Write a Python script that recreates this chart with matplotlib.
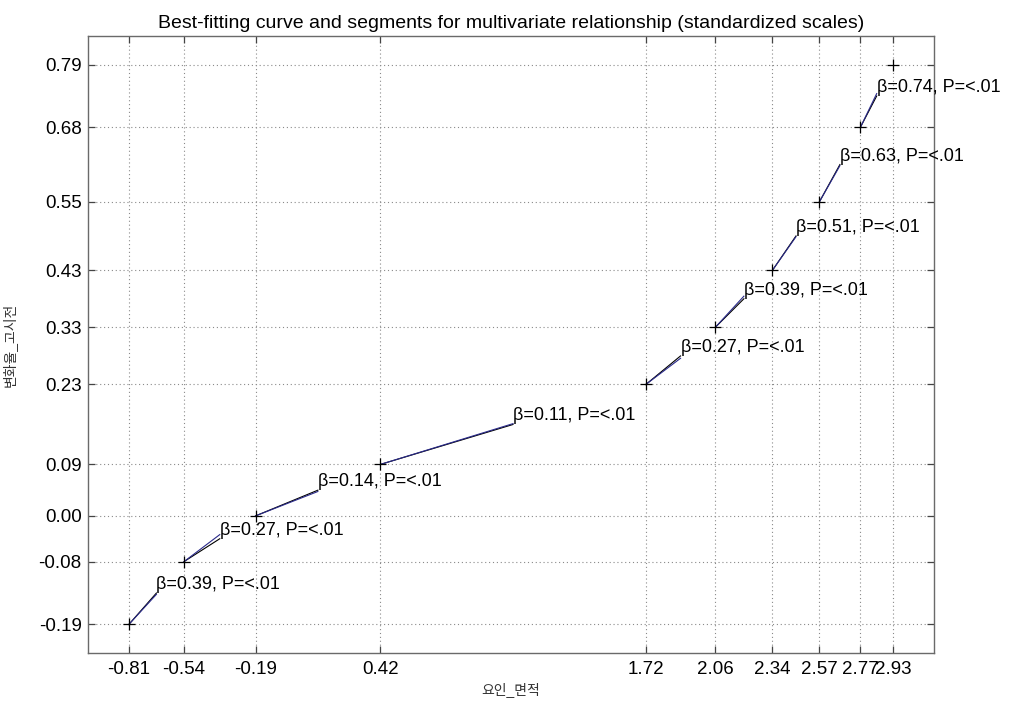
import matplotlib
matplotlib.use("Agg")
import matplotlib.pyplot as plt
import numpy as np

# knots of the piecewise fit (standardized scales)
knot_x = [-0.81, -0.54, -0.19, 0.42, 1.72, 2.06, 2.34, 2.57, 2.77, 2.93]
knot_y = [-0.19, -0.08, 0.00, 0.09, 0.23, 0.33, 0.43, 0.55, 0.68, 0.79]
betas = [0.39, 0.27, 0.14, 0.11, 0.27, 0.39, 0.51, 0.63, 0.74]
p_text = ["<.01"] * 9

title = "Best-fitting curve and segments for multivariate relationship (standardized scales)"
x_label = "요인_면적"
y_label = "변화율_고시전"

plt.rcParams["font.family"] = ["Liberation Sans", "Noto Sans CJK KR", "DejaVu Sans"]

fig = plt.figure(figsize=(10.17, 7.03), dpi=100)
ax = fig.add_axes([0.0865, 0.0711, 0.8318, 0.8777])

kx = np.array(knot_x)
ky = np.array(knot_y)

for i, b in enumerate(betas):
    x0, y0 = kx[i], ky[i]
    xm = (kx[i] + kx[i + 1]) / 2
    ym = (ky[i] + ky[i + 1]) / 2
    # chord from knot to segment midpoint
    ax.plot([x0, xm], [y0, ym], color="black", lw=0.8, zorder=3)
    # regression slope from the same knot
    ax.plot([x0, xm], [y0, y0 + b * (xm - x0)], color="#2a2a8a", lw=0.8, zorder=3)
    ax.text(xm, ym, f"β={b:.2f}, P={p_text[i]}", fontsize=13, va="bottom", ha="left", zorder=4)

ax.plot(kx, ky, ls="none", marker="+", ms=8, mew=0.9, color="black", zorder=5)

ax.set_xlim(kx.min() - 0.2, kx.max() + 0.2)
ax.set_ylim(ky.min() - 0.05, ky.max() + 0.05)
ax.set_xticks(kx)
ax.set_xticklabels([f"{v:.2f}" for v in knot_x])
ax.set_yticks(ky)
ax.set_yticklabels([f"{v:.2f}" for v in knot_y])

ax.grid(True, color="#8a8a8a", ls=(0, (1, 2.5)), lw=0.8)
ax.tick_params(direction="in", length=5, width=0.9, color="#444444",
               top=True, right=True, labelsize=13.5)
ax.tick_params(axis="x", pad=6)
ax.tick_params(axis="y", pad=4.5)
for s in ax.spines.values():
    s.set_color("#6a6a6a")
    s.set_linewidth(1.0)

ax.set_title(title, fontsize=14, pad=6)
ax.set_xlabel(x_label, fontsize=10, labelpad=3, color="#333333")
ax.set_ylabel(y_label, fontsize=10, labelpad=16, color="#333333")

fig.savefig("out.png", dpi=100)
